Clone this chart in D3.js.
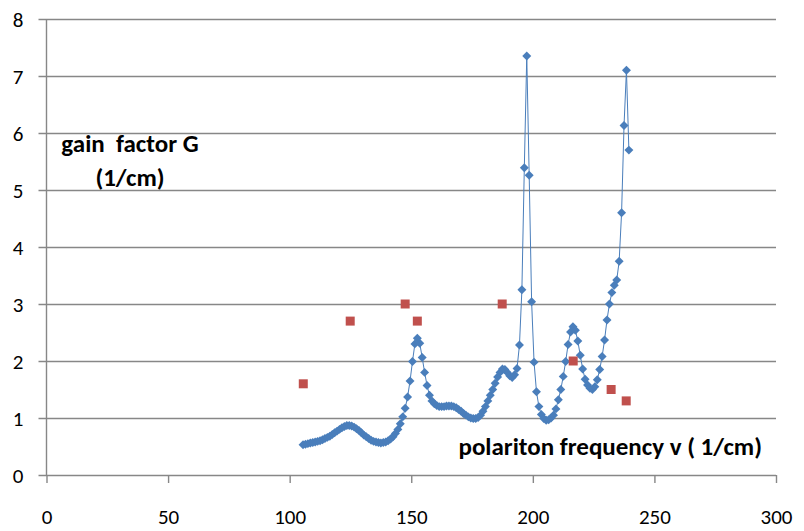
<!DOCTYPE html>
<html lang="en">
<head>
  <meta charset="utf-8">
  <script src="https://cdn.jsdelivr.net/npm/d3@7/dist/d3.min.js"></script>
  <style>
    body { margin: 0; background: #fff; }
    svg text { font-family: Calibri, Carlito, Lato, "Open Sans", sans-serif; fill: #000; }
  </style>
</head>
<body>
<svg id="chart" width="804" height="531"></svg>
<script>
// polariton frequency (1/cm) and computed gain factor G (1/cm)
var freq = [105.5, 106.5, 107.5, 108.5, 109.5, 110.5, 111.5, 112.5, 113.5, 114.5,
  115.5, 116.5, 117.5, 118.5, 119.5, 120.5, 121.5, 122.5, 123.5, 124.5,
  125.5, 126.5, 127.5, 128.5, 129.5, 130.5, 131.5, 132.5, 133.5, 134.5,
  135.5, 136.5, 137.5, 138.5, 139.5, 140.5, 141.5, 142.5, 143.5, 144.5,
  145.5, 146.5, 147.5, 148.5, 149.5, 150.5, 151.5, 152.5, 153.5, 154.5,
  155.5, 156.5, 157.5, 158.5, 159.5, 160.5, 161.5, 162.5, 163.5, 164.5,
  165.5, 166.5, 167.5, 168.5, 169.5, 170.5, 171.5, 172.5, 173.5, 174.5,
  175.5, 176.5, 177.5, 178.5, 179.5, 180.5, 181.5, 182.5, 183.5, 184.5,
  185.5, 186.5, 187.5, 188.5, 189.5, 190.5, 191.5, 192.5, 193.5, 194.5,
  195.5, 196.5, 197.5, 198.5, 199.5, 200.5, 201.5, 202.5, 203.5, 204.5,
  205.5, 206.5, 207.5, 208.5, 209.5, 210.5, 211.5, 212.5, 213.5, 214.5,
  215.5, 216.5, 217.5, 218.5, 219.5, 220.5, 221.5, 222.5, 223.5, 224.5,
  225.5, 226.5, 227.5, 228.5, 229.5, 230.5, 231.5, 232.5, 233.5, 234.5,
  235.5, 236.5, 237.5, 238.5, 239.5];
var gain = [0.53, 0.54, 0.55, 0.56, 0.57, 0.58, 0.59, 0.60, 0.62, 0.64,
  0.66, 0.68, 0.71, 0.74, 0.77, 0.80, 0.83, 0.85, 0.87, 0.87,
  0.86, 0.84, 0.81, 0.78, 0.74, 0.70, 0.67, 0.64, 0.61, 0.59,
  0.58, 0.57, 0.56, 0.57, 0.58, 0.60, 0.63, 0.67, 0.73, 0.80,
  0.90, 1.02, 1.17, 1.37, 1.65, 1.99, 2.30, 2.40, 2.31, 2.06,
  1.80, 1.57, 1.40, 1.30, 1.25, 1.22, 1.20, 1.20, 1.20, 1.21,
  1.21, 1.21, 1.20, 1.18, 1.15, 1.12, 1.08, 1.05, 1.02, 1.00,
  0.99, 0.99, 1.01, 1.05, 1.12, 1.20, 1.30, 1.40, 1.50, 1.61,
  1.72, 1.80, 1.86, 1.85, 1.80, 1.74, 1.71, 1.76, 1.87, 2.28,
  3.25, 5.39, 7.35, 5.26, 3.04, 1.98, 1.46, 1.20, 1.06, 0.99,
  0.96, 0.97, 1.00, 1.05, 1.16, 1.32, 1.50, 1.73, 1.99, 2.29,
  2.51, 2.60, 2.54, 2.35, 2.10, 1.86, 1.68, 1.58, 1.52, 1.50,
  1.55, 1.67, 1.85, 2.08, 2.37, 2.72, 3.00, 3.20, 3.33, 3.42,
  3.75, 4.60, 6.13, 7.10, 5.70];

// measured points
var expFreq = [105.6, 124.9, 147.5, 152.5, 187.4, 216.6, 232.2, 238.4];
var expGain = [1.6, 2.7, 3.0, 2.7, 3.0, 2.0, 1.5, 1.3];

var xTicks = [0, 50, 100, 150, 200, 250, 300];
var yTicks = [0, 1, 2, 3, 4, 5, 6, 7, 8];

var svg = d3.select('#chart');
var x = d3.scaleLinear().domain([0, 300]).range([46.5, 776]);
var y = d3.scaleLinear().domain([0, 8]).range([475, 19]);
var gridColor = '#878787';
var font = 'Calibri, Carlito, Lato, "Open Sans", sans-serif';

// horizontal gridlines + y labels
var yAxis = svg.append('g')
  .attr('transform', 'translate(' + x(0) + ',0)')
  .call(d3.axisLeft(y).tickValues(yTicks).tickSize(-(x(300) - x(0))).tickPadding(0));
yAxis.select('.domain').remove();
yAxis.selectAll('.tick line')
  .attr('x1', -8)
  .attr('stroke', gridColor)
  .attr('stroke-width', 1.4);
yAxis.selectAll('.tick text')
  .attr('x', -23)
  .attr('dy', '0.36em')
  .style('font-size', '21px');

// vertical axis line
svg.append('line')
  .attr('x1', x(0)).attr('x2', x(0))
  .attr('y1', y(8)).attr('y2', y(0))
  .attr('stroke', gridColor).attr('stroke-width', 1.4);

// x axis
var xAxis = svg.append('g')
  .attr('transform', 'translate(0,' + y(0) + ')')
  .call(d3.axisBottom(x).tickValues(xTicks).tickSize(8).tickPadding(0).tickSizeOuter(0));
xAxis.select('.domain').remove();
xAxis.selectAll('.tick line')
  .attr('stroke', gridColor)
  .attr('stroke-width', 1.4);
xAxis.selectAll('.tick text')
  .attr('y', 49)
  .attr('dy', '0')
  .style('font-size', '21px');
svg.selectAll('.tick text').style('font-family', font).attr('fill', '#000');

// calculated gain: thin line with diamonds
var pts = freq.map(function(f, i) { return [f, gain[i]]; });
var line = d3.line()
  .x(function(d) { return x(d[0]); })
  .y(function(d) { return y(d[1]); });

svg.append('path')
  .datum(pts)
  .attr('d', line)
  .attr('fill', 'none')
  .attr('stroke', '#4A7EBB')
  .attr('stroke-width', 1);

var diamond = d3.symbol().type(d3.symbolSquare).size(40);
svg.append('g').selectAll('path')
  .data(pts)
  .enter()
  .append('path')
  .attr('d', diamond)
  .attr('transform', function(d) { return 'translate(' + x(d[0]) + ',' + y(d[1]) + ') rotate(45)'; })
  .attr('fill', '#4A7EBB');

// measured: red squares
var square = d3.symbol().type(d3.symbolSquare).size(81);
svg.append('g').selectAll('path')
  .data(expFreq)
  .enter()
  .append('path')
  .attr('d', square)
  .attr('transform', function(d, i) { return 'translate(' + x(d) + ',' + y(expGain[i]) + ')'; })
  .attr('fill', '#C0504D');

// axis titles (placed inside the plot like the original)
var yTitle = svg.append('text')
  .attr('text-anchor', 'middle')
  .style('font-size', '25px')
  .style('font-weight', 'bold');
yTitle.append('tspan').attr('x', 130).attr('y', 152).attr('xml:space', 'preserve').text('gain  factor G');
yTitle.append('tspan').attr('x', 130).attr('y', 186).text('(1/cm)');

svg.append('text')
  .attr('x', 762)
  .attr('y', 455)
  .attr('text-anchor', 'end')
  .style('font-size', '25px')
  .style('font-weight', 'bold')
  .text('polariton frequency v ( 1/cm)');
</script>
</body>
</html>
